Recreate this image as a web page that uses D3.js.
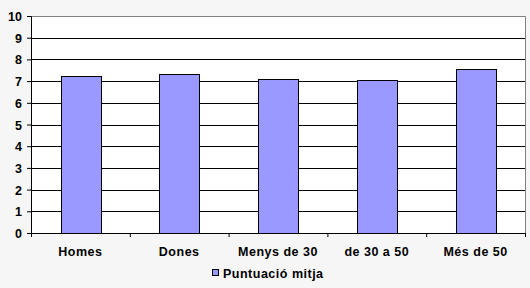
<!DOCTYPE html>
<html>
<head>
<meta charset="utf-8">
<script src="https://cdn.jsdelivr.net/npm/d3@7"></script>
<style>
  body { margin: 0; background: #f6f6f6; }
  svg { display: block; font-family: "Liberation Sans", Arial, sans-serif; }
  text { font-weight: bold; font-size: 12.5px; fill: #000; }
</style>
</head>
<body>
<div id="chart"></div>
<script>
// chart values
var categories = ["Homes", "Dones", "Menys de 30", "de 30 a 50", "Més de 50"];
var values = [7.22, 7.31, 7.08, 7.04, 7.54];
var yTicks = [0, 1, 2, 3, 4, 5, 6, 7, 8, 9, 10];
var seriesName = "Puntuació mitja";

var width = 530, height = 288;
var plotLeft = 31, plotRight = 525, plotTop = 16, plotBottom = 233;

var svg = d3.select("#chart")
    .append("svg")
    .attr("width", width)
    .attr("height", height);

var x = d3.scaleBand().domain(categories).range([plotLeft, plotRight])
    .paddingInner(0.6).paddingOuter(0.3);
var xEdge = d3.scaleLinear().domain([0, categories.length]).range([plotLeft, plotRight]);
var y = d3.scaleLinear().domain([0, 10]).range([plotBottom, plotTop]);

// plot area
svg.append("rect")
    .attr("x", plotLeft).attr("y", plotTop)
    .attr("width", plotRight - plotLeft).attr("height", plotBottom - plotTop)
    .attr("fill", "#fff");

// gridlines
svg.append("g")
    .selectAll("line")
    .data(yTicks.filter(function (d) { return d > 0 && d < 10; }))
    .enter()
    .append("line")
    .attr("x1", plotLeft).attr("x2", plotRight)
    .attr("y1", function (d) { return Math.round(y(d)) + 0.5; })
    .attr("y2", function (d) { return Math.round(y(d)) + 0.5; })
    .attr("stroke", "#000");

// gray border top and right
svg.append("path")
    .attr("d", "M" + plotLeft + "," + (plotTop + 0.5) + "H" + (plotRight + 0.5) + "V" + plotBottom)
    .attr("fill", "none")
    .attr("stroke", "#808080");

// bars
svg.append("g")
    .selectAll("rect")
    .data(values)
    .enter()
    .append("rect")
    .attr("x", function (d, i) { return Math.round(x(categories[i])) + 0.5; })
    .attr("y", function (d) { return Math.round(y(d)) + 0.5; })
    .attr("width", Math.round(x.bandwidth()))
    .attr("height", function (d) { return Math.round(y(0)) - Math.round(y(d)); })
    .attr("fill", "#9999ff")
    .attr("stroke", "#000");

// y axis
var yAxis = d3.axisLeft(y).tickValues(yTicks).tickSize(4).tickPadding(5)
    .offset(0.5);
var gy = svg.append("g")
    .attr("transform", "translate(" + plotLeft + ",0)")
    .call(yAxis);
gy.selectAll("path, line").attr("stroke", "#000");
gy.selectAll("text").style("font-size", "12.5px").attr("dy", "0.36em");

// x axis ticks between categories
var xAxis = d3.axisBottom(xEdge).tickValues(d3.range(categories.length + 1))
    .tickSize(4).tickSizeOuter(0).tickFormat("").offset(0.5);
var gx = svg.append("g")
    .attr("transform", "translate(0," + plotBottom + ")")
    .call(xAxis);
gx.selectAll("path, line").attr("stroke", "#000");

// category labels
svg.append("g")
    .selectAll("text")
    .data(categories)
    .enter()
    .append("text")
    .attr("x", function (d) { return x(d) + x.bandwidth() / 2; })
    .attr("y", 256)
    .attr("text-anchor", "middle")
    .style("letter-spacing", "0.5px")
    .text(function (d) { return d; });

// legend
var legend = svg.append("g");
legend.append("rect")
    .attr("x", 212.5).attr("y", 269.5)
    .attr("width", 6).attr("height", 6)
    .attr("fill", "#9999ff").attr("stroke", "#000");
legend.append("text")
    .attr("x", 223).attr("y", 278)
    .style("letter-spacing", "0.5px")
    .text(seriesName);
</script>
</body>
</html>
